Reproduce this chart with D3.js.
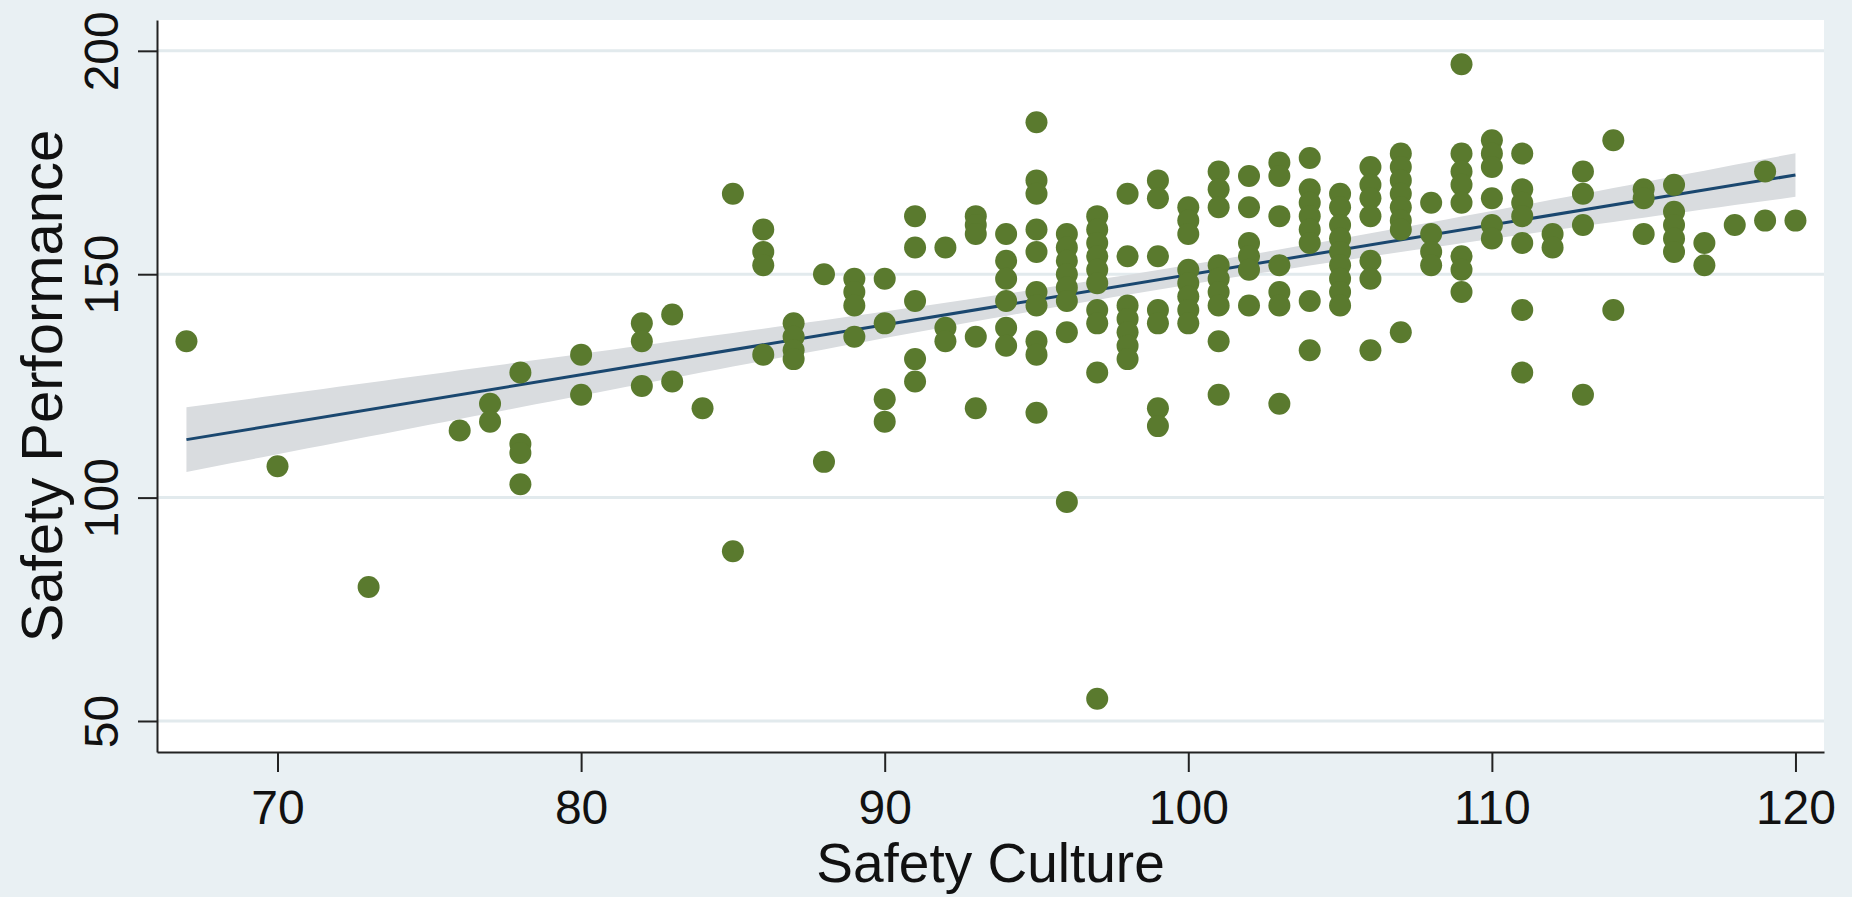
<!DOCTYPE html>
<html>
<head>
<meta charset="utf-8">
<script src="https://cdn.jsdelivr.net/npm/d3@7"></script>
<style>
  body { margin: 0; background: #e9f0f3; }
  svg { display: block; }
  text { font-family: "Liberation Sans", Arial, sans-serif; fill: #111; }
</style>
</head>
<body>
<svg id="svg" width="1852" height="897"></svg>
<script>
// Safety Culture values (x) and the Safety Performance scores seen at each one
const cultureLevels = [67, 70, 73, 76, 77, 78, 80, 82, 83, 84, 85, 86, 87, 88, 89, 90, 91, 92, 93, 94,
  95, 96, 97, 98, 99, 100, 101, 102, 103, 104, 105, 106, 107, 108, 109, 110, 111, 112, 113, 114,
  115, 116, 117, 118, 119, 120];

const performanceByLevel = [
  [135], [107], [80], [115], [121, 117], [128, 112, 110, 103], [132, 123],
  [139, 135, 125], [141, 126], [120], [168, 88], [160, 155, 152, 132],
  [139, 136, 133, 131], [150, 108], [149, 146, 143, 136], [149, 139, 122, 117],
  [163, 156, 144, 131, 126], [156, 138, 135], [163, 161, 159, 136, 120],
  [159, 153, 149, 144, 138, 134],
  [184, 171, 168, 160, 155, 146, 143, 135, 132, 119],
  [159, 156, 153, 150, 147, 144, 137, 99],
  [163, 160, 157, 154, 151, 148, 142, 139, 128, 55],
  [168, 154, 143, 140, 137, 134, 131],
  [171, 167, 154, 142, 139, 120, 116],
  [165, 162, 159, 151, 148, 145, 142, 139],
  [173, 169, 165, 152, 149, 146, 143, 135, 123],
  [172, 165, 157, 154, 151, 143],
  [175, 172, 163, 152, 146, 143, 121],
  [176, 169, 166, 163, 160, 157, 144, 133],
  [168, 165, 161, 158, 155, 152, 149, 146, 143],
  [174, 170, 167, 163, 153, 149, 133],
  [177, 174, 171, 168, 165, 162, 160, 137],
  [166, 159, 155, 152],
  [197, 177, 173, 170, 166, 154, 151, 146],
  [180, 177, 174, 167, 161, 158],
  [177, 169, 166, 163, 157, 142, 128],
  [159, 156], [173, 168, 161, 123], [180, 142], [169, 167, 159],
  [170, 164, 161, 158, 155], [157, 152], [161], [173, 162], [162]
];

const xTicks = [70, 80, 90, 100, 110, 120];
const yTicks = [50, 100, 150, 200];

const points = [];
cultureLevels.forEach((c, i) => performanceByLevel[i].forEach(p => points.push([c, p])));

const svg = d3.select("#svg");
const plotLeft = 157, plotRight = 1824, plotTop = 20, plotBottom = 752;

const x = d3.scaleLinear().domain([66.03, 120.94]).range([plotLeft, plotRight]);
const y = d3.scaleLinear().domain([43.06, 206.9]).range([plotBottom, plotTop]);

// plot region
svg.append("rect").attr("x", plotLeft).attr("y", plotTop)
  .attr("width", plotRight - plotLeft).attr("height", plotBottom - plotTop).attr("fill", "#ffffff");

svg.append("g").selectAll("line").data(yTicks).join("line")
  .attr("x1", plotLeft).attr("x2", plotRight)
  .attr("y1", d => y(d)).attr("y2", d => y(d))
  .attr("stroke", "#e2eaed").attr("stroke-width", 3);

// linear fit with 95% CI of the mean (as lfitci)
const n = points.length;
const mx = d3.mean(points, d => d[0]);
const my = d3.mean(points, d => d[1]);
const sxx = d3.sum(points, d => (d[0] - mx) ** 2);
const sxy = d3.sum(points, d => (d[0] - mx) * (d[1] - my));
const b = sxy / sxx, a = my - b * mx;
const s = Math.sqrt(d3.sum(points, d => (d[1] - a - b * d[0]) ** 2) / (n - 2));
const tval = 1.97;
const [xmin, xmax] = d3.extent(points, d => d[0]);
const fitX = d3.range(xmin, xmax + 0.001, 0.5);
const se = v => s * Math.sqrt(1 / n + (v - mx) ** 2 / sxx);

svg.append("path")
  .datum(fitX)
  .attr("fill", "#d9dcdf")
  .attr("d", d3.area()
    .x(d => x(d))
    .y0(d => y(a + b * d - tval * se(d)))
    .y1(d => y(a + b * d + tval * se(d))));

svg.append("path")
  .datum([xmin, xmax])
  .attr("fill", "none")
  .attr("stroke", "#1a476f")
  .attr("stroke-width", 3)
  .attr("d", d3.line().x(d => x(d)).y(d => y(a + b * d)));

svg.append("g").selectAll("circle").data(points).join("circle")
  .attr("cx", d => x(d[0])).attr("cy", d => y(d[1]))
  .attr("r", 11).attr("fill", "#5a7a2e");

// axes
const xAxis = svg.append("g").attr("transform", `translate(0,${plotBottom})`)
  .call(d3.axisBottom(x).tickValues(xTicks).tickSize(20).tickSizeOuter(0).tickPadding(18));
xAxis.selectAll("text").attr("font-size", 48);

const yAxis = svg.append("g").attr("transform", `translate(${plotLeft},0)`)
  .call(d3.axisLeft(y).tickValues(yTicks).tickSize(19).tickSizeOuter(0));
yAxis.selectAll("text")
  .attr("font-size", 48)
  .attr("transform", "rotate(-90)")
  .attr("text-anchor", "middle")
  .attr("x", 0).attr("y", -39).attr("dy", 0);

svg.selectAll(".domain, .tick line").attr("stroke", "#222").attr("stroke-width", 2);

svg.append("text")
  .attr("x", (plotLeft + plotRight) / 2).attr("y", 882)
  .attr("text-anchor", "middle").attr("font-size", 55)
  .text("Safety Culture");

svg.append("text")
  .attr("transform", `translate(62,${(plotTop + plotBottom) / 2}) rotate(-90)`)
  .attr("text-anchor", "middle").attr("font-size", 58)
  .text("Safety Performance");
</script>
</body>
</html>
